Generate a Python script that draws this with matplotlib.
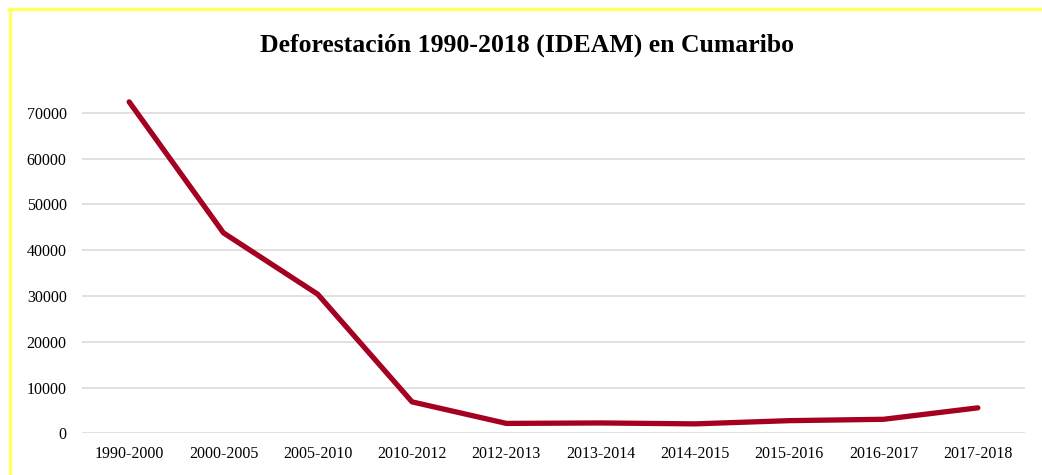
import matplotlib.pyplot as plt
from matplotlib.lines import Line2D

periods = ['1990-2000', '2000-2005', '2005-2010', '2010-2012', '2012-2013',
           '2013-2014', '2014-2015', '2015-2016', '2016-2017', '2017-2018']
deforestation = [72400, 43800, 30400, 6900, 2200, 2300, 2100, 2800, 3100, 5600]
yticks = [0, 10000, 20000, 30000, 40000, 50000, 60000, 70000]

plt.rcParams['font.family'] = ['Liberation Serif', 'DejaVu Serif']

fig = plt.figure(figsize=(10.42, 4.75), dpi=100)
ax = fig.add_axes([0.0787, 0.0874, 0.905, 0.7232])

ax.plot(range(len(periods)), deforestation, color='#A50021', linewidth=3.8,
        solid_capstyle='round', solid_joinstyle='round', zorder=3)

ax.set_xlim(-0.5, len(periods) - 0.5)
ax.set_ylim(0, 75000)
ax.set_yticks(yticks)
ax.set_yticklabels([str(v) for v in yticks])
ax.set_xticks(range(len(periods)))
ax.set_xticklabels(periods)

ax.grid(axis='y', color='#D9D9D9', linewidth=1.1)
ax.set_axisbelow(True)
for s in ax.spines.values():
    s.set_visible(False)
ax.tick_params(axis='both', length=0, labelsize=11.5, colors='#000000')
ax.tick_params(axis='y', pad=11)
ax.tick_params(axis='x', pad=9)

fig.text(527 / 1042, 1 - 45 / 475, 'Deforestación 1990-2018 (IDEAM) en Cumaribo',
         ha='center', va='center', fontsize=18.5, fontweight='bold')

# yellow frame of the embedded chart
fig.add_artist(Line2D([9.5 / 1042, 9.5 / 1042], [0, 1 - 9 / 475],
                      transform=fig.transFigure, color='#FFFF66', linewidth=2.5))
fig.add_artist(Line2D([8.5 / 1042, 1], [1 - 9 / 475, 1 - 9 / 475],
                      transform=fig.transFigure, color='#FFFF66', linewidth=2.5))

plt.savefig('out.png', dpi=100)
